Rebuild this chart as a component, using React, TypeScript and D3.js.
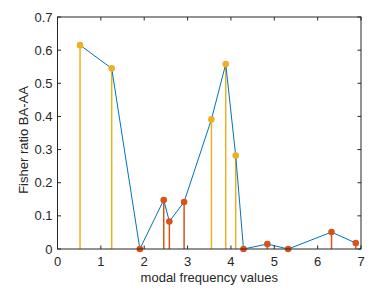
import React, { useEffect, useRef } from 'react';
import * as d3 from 'd3';

// modal frequency values (x) and Fisher ratio (y), in plotting order
const freqs = [0.52, 1.25, 1.9, 2.45, 2.58, 2.92, 3.55, 3.88, 4.11, 4.29, 4.84, 5.32, 6.32, 6.88];
const ratios = [0.615, 0.545, 0.0, 0.148, 0.083, 0.142, 0.391, 0.558, 0.282, 0.0, 0.015, 0.0, 0.051, 0.018];
// which points are drawn in the "high" (yellow) group
const highGroup = [true, true, false, false, false, false, true, true, true, false, false, false, false, false];

const xTicks = [0, 1, 2, 3, 4, 5, 6, 7];
const yTicks = [0, 0.1, 0.2, 0.3, 0.4, 0.5, 0.6, 0.7];

const W = 389;
const H = 292;
const margin = { top: 17, right: 28, bottom: 43, left: 57.5 };

const App: React.FC = () => {
    const svgRef = useRef<SVGSVGElement | null>(null);

    useEffect(() => {
        if (!svgRef.current) return;
        const svg = d3.select(svgRef.current);
        svg.selectAll('*').remove();

        const x = d3.scaleLinear().domain([0, 7]).range([margin.left, W - margin.right]);
        const y = d3.scaleLinear().domain([0, 0.7]).range([H - margin.bottom, margin.top]);

        const axisColor = '#262626';
        const font = 'Liberation Sans, Arial, sans-serif';
        const fs = 13;
        const pts = freqs.map((f, i) => ({ f, r: ratios[i], hi: highGroup[i] }));

        // stems
        svg.append('g')
            .selectAll('line')
            .data(pts)
            .enter()
            .append('line')
            .attr('x1', d => x(d.f))
            .attr('x2', d => x(d.f))
            .attr('y1', y(0))
            .attr('y2', d => y(d.r))
            .attr('stroke', d => d.hi ? '#EDB120' : '#D95319')
            .attr('stroke-width', 1.5);

        // connecting line
        const line = d3.line<{ f: number; r: number }>()
            .x(d => x(d.f))
            .y(d => y(d.r));
        svg.append('path')
            .datum(pts)
            .attr('d', line)
            .attr('fill', 'none')
            .attr('stroke', '#0072BD')
            .attr('stroke-width', 1);

        // markers
        svg.append('g')
            .selectAll('circle')
            .data(pts)
            .enter()
            .append('circle')
            .attr('cx', d => x(d.f))
            .attr('cy', d => y(d.r))
            .attr('r', 3.3)
            .attr('fill', d => d.hi ? '#EDB120' : '#D95319');

        // box
        const [x0, x1] = x.range();
        const [y0, y1] = y.range();
        svg.append('rect')
            .attr('x', x0)
            .attr('y', y1)
            .attr('width', x1 - x0)
            .attr('height', y0 - y1)
            .attr('fill', 'none')
            .attr('stroke', axisColor)
            .attr('stroke-width', 1);

        const tick = 3.5;
        const g = svg.append('g').attr('stroke', axisColor).attr('stroke-width', 1);
        xTicks.forEach(t => {
            g.append('line').attr('x1', x(t)).attr('x2', x(t)).attr('y1', y0).attr('y2', y0 - tick);
            g.append('line').attr('x1', x(t)).attr('x2', x(t)).attr('y1', y1).attr('y2', y1 + tick);
        });
        yTicks.forEach(t => {
            g.append('line').attr('x1', x0).attr('x2', x0 + tick).attr('y1', y(t)).attr('y2', y(t));
            g.append('line').attr('x1', x1).attr('x2', x1 - tick).attr('y1', y(t)).attr('y2', y(t));
        });

        // tick labels
        svg.append('g')
            .selectAll('text')
            .data(xTicks)
            .enter()
            .append('text')
            .attr('x', d => x(d))
            .attr('y', y0 + 17)
            .attr('text-anchor', 'middle')
            .attr('font-family', font)
            .attr('font-size', fs)
            .attr('fill', axisColor)
            .text(d => String(d));

        svg.append('g')
            .selectAll('text')
            .data(yTicks)
            .enter()
            .append('text')
            .attr('x', x0 - 5)
            .attr('y', d => y(d) + 4.5)
            .attr('text-anchor', 'end')
            .attr('font-family', font)
            .attr('font-size', fs)
            .attr('fill', axisColor)
            .text(d => d === 0 ? '0' : d3.format('.1f')(d));

        // axis labels
        svg.append('text')
            .attr('x', (x0 + x1) / 2)
            .attr('y', H - 10)
            .attr('text-anchor', 'middle')
            .attr('font-family', font)
            .attr('font-size', fs)
            .attr('fill', axisColor)
            .text('modal frequency values');

        svg.append('text')
            .attr('transform', `translate(${28}, ${140}) rotate(-90)`)
            .attr('text-anchor', 'middle')
            .attr('font-family', font)
            .attr('font-size', fs)
            .attr('fill', axisColor)
            .text('Fisher ratio BA-AA');
    }, []);

    return (
        <svg
            ref={svgRef}
            width={W}
            height={H}
            style={{ position: 'absolute', left: 0, top: 0, background: '#fff' }}
        />
    );
};

export default App;
